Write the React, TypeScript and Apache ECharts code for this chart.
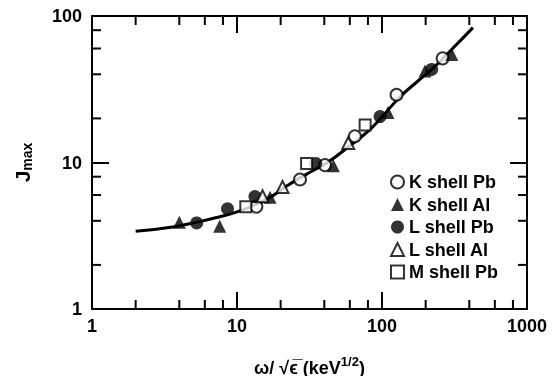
import React, { useEffect, useRef } from "react";
import * as echarts from "echarts";

const FONT = '"Liberation Sans", Arial, Helvetica, sans-serif';

// x = ω/√ε (keV^1/2), y = Jmax
const kShellPb = [[13.6, 5.0], [27.2, 7.65], [40.4, 9.6], [65, 15.1], [126, 29.0], [262, 51.4]];
const kShellAl = [[4.0, 3.91], [7.6, 3.67], [16.9, 5.8], [46.2, 9.5], [110, 21.9], [198, 42.1], [303, 54.7]];
const lShellPb = [[5.27, 3.87], [8.6, 4.83], [13.3, 5.85], [34.9, 9.85], [97, 20.6], [220, 43.2]];
const lShellAl = [[15.0, 5.88], [20.6, 6.8], [58.5, 13.6]];
const mShellPb = [[11.5, 4.98], [30.2, 9.85], [76.5, 18.0]];

const curveX = [2, 3.5, 5.5, 7.5, 10, 13, 17, 22, 30, 42, 60, 80, 100, 133, 177, 230, 302, 424];
const curveY = [3.39, 3.62, 3.95, 4.25, 4.6, 5.1, 5.8, 6.9, 8.3, 10.0, 13.0, 16.3, 20.5, 28.0, 36.0, 45.0, 59.0, 83.3];

const xMinorTicks = [2, 4, 6, 8, 20, 40, 60, 80, 200, 400, 600, 800];
const yMinorTicks = [2, 4, 6, 8, 20, 40, 60, 80];
const xMin = 1, xMax = 1000, yMin = 1, yMax = 100;

const seriesNames = ["K shell Pb", "K shell Al", "L shell Pb", "L shell Al", "M shell Pb"];

const TICK_MAJOR = 17;
const TICK_MINOR = 9;

export default function App() {
  const ref = useRef<HTMLDivElement>(null);
  useEffect(() => {
    document.body.style.margin = "0";
    const chart = echarts.init(ref.current!, null, { renderer: "svg" });
    const tickStyle = { color: "#000", width: 2 };
    const axisBase = (extra: any) => ({
      type: "log",
      splitLine: { show: false },
      axisLine: { show: true, lineStyle: { color: "#000", width: 2 } },
      axisTick: { show: true, inside: true, length: TICK_MAJOR, lineStyle: tickStyle },
      ...extra,
    });
    const labelStyle = { color: "#000", fontFamily: FONT, fontWeight: "bold" as const, fontSize: 18 };
    const openStyle = { color: "#fff", borderColor: "#000", borderWidth: 2 };
    const fillStyle = { color: "#000" };
    const tickLine = (x1: number, y1: number, x2: number, y2: number) => ({
      type: "line",
      shape: { x1, y1, x2, y2 },
      style: { stroke: "#000", lineWidth: 2 },
    });
    const option: any = {
      animation: false,
      grid: { left: 92, right: 30, top: 16, bottom: 67, containLabel: false, outerBoundsMode: "none" },
      legend: {
        orient: "vertical",
        left: 390,
        top: 173,
        padding: 0,
        itemWidth: 13,
        itemHeight: 13,
        itemGap: 4.5,
        data: seriesNames,
        textStyle: { ...labelStyle, lineHeight: 18 },
      },
      xAxis: [
        axisBase({
          position: "bottom",
          min: xMin,
          max: xMax,
          axisLabel: { ...labelStyle, margin: 8, formatter: (v: number) => String(v) },
          name: "{a|ω/ √ϵ\u0305 (keV}{s|1/2}{a|)}",
          nameLocation: "middle",
          nameGap: 46,
          nameTextStyle: {
            ...labelStyle,
            rich: {
              a: { ...labelStyle, fontSize: 18 },
              s: { ...labelStyle, fontSize: 13, padding: [0, 0, 12, 0] },
            },
          },
        }),
        axisBase({ position: "top", min: xMin, max: xMax, axisLabel: { show: false } }),
      ],
      yAxis: [
        axisBase({
          position: "left",
          min: yMin,
          max: yMax,
          axisLabel: { ...labelStyle, margin: 10, formatter: (v: number) => String(v) },
          name: "{j|J}{m|max}",
          nameLocation: "middle",
          nameGap: 58,
          nameTextStyle: {
            ...labelStyle,
            rich: {
              j: { ...labelStyle, fontSize: 21 },
              m: { ...labelStyle, fontSize: 14, padding: [10, 0, 0, 0] },
            },
          },
        }),
        axisBase({ position: "right", min: yMin, max: yMax, axisLabel: { show: false } }),
      ],
      series: [
        {
          type: "custom",
          coordinateSystem: "cartesian2d",
          data: xMinorTicks.map((v) => [v, 2]),
          renderItem: (_p: any, api: any) => {
            const v = api.value(0);
            const b = api.coord([v, yMin]);
            const t = api.coord([v, yMax]);
            return {
              type: "group",
              children: [tickLine(b[0], b[1], b[0], b[1] - TICK_MINOR), tickLine(t[0], t[1], t[0], t[1] + TICK_MINOR)],
            };
          },
        },
        {
          type: "custom",
          coordinateSystem: "cartesian2d",
          data: yMinorTicks.map((v) => [2, v]),
          renderItem: (_p: any, api: any) => {
            const v = api.value(1);
            const l = api.coord([xMin, v]);
            const r = api.coord([xMax, v]);
            return {
              type: "group",
              children: [tickLine(l[0], l[1], l[0] + TICK_MINOR, l[1]), tickLine(r[0], r[1], r[0] - TICK_MINOR, r[1])],
            };
          },
        },
        {
          type: "line",
          name: "curve",
          smooth: true,
          showSymbol: false,
          z: 2,
          data: curveX.map((x, i) => [x, curveY[i]]),
          lineStyle: { color: "#000", width: 3 },
        },
        { type: "scatter", name: "K shell Pb", symbol: "circle", symbolSize: 12, z: 5, data: kShellPb, itemStyle: openStyle },
        { type: "scatter", name: "K shell Al", symbol: "triangle", symbolSize: 13, z: 5, data: kShellAl, itemStyle: fillStyle },
        { type: "scatter", name: "L shell Pb", symbol: "circle", symbolSize: 13, z: 5, data: lShellPb, itemStyle: fillStyle },
        { type: "scatter", name: "L shell Al", symbol: "triangle", symbolSize: 12, z: 5, data: lShellAl, itemStyle: openStyle },
        { type: "scatter", name: "M shell Pb", symbol: "rect", symbolSize: 11, z: 5, data: mShellPb, itemStyle: openStyle },
      ],
    };
    chart.setOption(option);
    return () => chart.dispose();
  }, []);
  return <div ref={ref} style={{ position: "fixed", left: 0, top: 0, width: 557, height: 376 }} />;
}
